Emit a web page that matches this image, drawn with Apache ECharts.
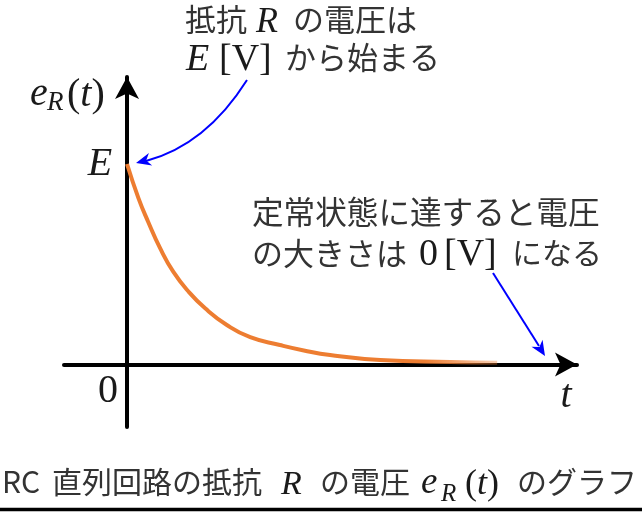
<!DOCTYPE html>
<html>
<head>
<meta charset="utf-8" />
<title>RC 直列回路の抵抗 R の電圧</title>
<script src="https://cdn.jsdelivr.net/npm/echarts@6/dist/echarts.min.js"></script>
<style>
html, body { margin: 0; padding: 0; background: #ffffff; }
#main { width: 642px; height: 512px; }
</style>
</head>
<body>
<div id="main"></div>
<script type="text/javascript">
// 図から読み取った値 (t: 時間, eR: E に対する比)
var tValues = [0, 0.2, 0.37, 0.58, 0.81, 1.08, 1.37, 1.75, 2.16, 2.68, 3.1, 3.56, 4.44, 5.67, 6.49];
var eValues = [1.0, 0.83, 0.712, 0.58, 0.463, 0.363, 0.28, 0.197, 0.136, 0.097, 0.07, 0.047, 0.022, 0.012, 0.008];
var xRange = [-1.105, 7.89];
var yRange = [-0.312, 1.434];

var jpFont = '"Noto Sans CJK JP", sans-serif';
var mathFont = '"Liberation Serif", serif';
var jpColor = '#333333';
var mathColor = '#1a1a1a';
var blue = '#0000ff';

// 文字 (x は左端, y は行の中央)
function txt(x, y, text, kind, size, align) {
	var style = {
		text : text,
		fill : kind == 'jp' ? jpColor : mathColor,
		fontFamily : kind == 'jp' ? jpFont : mathFont,
		fontStyle : kind == 'mi' ? 'italic' : 'normal',
		fontSize : size,
		align : align || 'left',
		verticalAlign : 'middle'
	};
	return { type : 'text', x : x, y : y, z : 10, style : style };
}

// (t) のように 直立の括弧 + 斜体の t
function paren(x, y, size) {
	return {
		type : 'text',
		x : x,
		y : y,
		z : 10,
		style : {
			text : '{r|(}{i|t}{r|)}',
			align : 'left',
			verticalAlign : 'middle',
			rich : {
				r : { fontFamily : mathFont, fontSize : size, fill : mathColor },
				i : { fontFamily : mathFont, fontStyle : 'italic', fontSize : size, fill : mathColor }
			}
		}
	};
}

// 矢じり (tip へ向かう)
function arrowHead(tip, from, len, wid) {
	var dx = tip[0] - from[0], dy = tip[1] - from[1];
	var d = Math.sqrt(dx * dx + dy * dy);
	var ux = dx / d, uy = dy / d;
	var px = -uy, py = ux;
	var bx = tip[0] - ux * len, by = tip[1] - uy * len;
	var nx = tip[0] - ux * len * 0.7, ny = tip[1] - uy * len * 0.7;
	return {
		type : 'polygon',
		z : 10,
		shape : {
			points : [ tip, [ bx + px * wid / 2, by + py * wid / 2 ], [ nx, ny ],
					[ bx - px * wid / 2, by - py * wid / 2 ] ]
		},
		style : { fill : blue }
	};
}

var axisCommon = {
	type : 'value',
	axisLine : {
		onZero : true,
		symbol : [ 'none', 'arrow' ],
		symbolSize : [ 18, 22 ],
		lineStyle : { color : '#000', width : 4 }
	},
	axisTick : { show : false },
	axisLabel : { show : false },
	splitLine : { show : false }
};

var chart = echarts.init(document.getElementById('main'));
chart.setOption({
	animation : false,
	grid : {
		left : 64,
		right : 65,
		top : 77,
		bottom : 85
	},
	xAxis : echarts.util.merge({ min : xRange[0], max : xRange[1] }, axisCommon),
	yAxis : echarts.util.merge({ min : yRange[0], max : yRange[1] }, axisCommon),
	series : [ {
		type : 'line',
		smooth : true,
		showSymbol : false,
		z : 3,
		lineStyle : {
			width : 4,
			color : new echarts.graphic.LinearGradient(0, 0, 1, 0, [
				{ offset : 0, color : '#ed7d31' },
				{ offset : 0.8, color : '#ed7d31' },
				{ offset : 1, color : 'rgba(237,125,49,0.35)' }
			])
		},
		data : tValues.map(function(t, i) {
			return [ t, eValues[i] ];
		})
	} ],
	graphic : [
		// 抵抗 R の電圧は / E [V] から始まる
		txt(185, 19, '抵抗', 'jp', 31),
		txt(256, 23, 'R', 'mi', 36),
		txt(293, 19, 'の電圧は', 'jp', 31),
		txt(186, 60, 'E', 'mi', 38),
		txt(219, 60, '[V]', 'mr', 38),
		txt(285, 57, 'から始まる', 'jp', 31),
		// 定常状態に達すると電圧 / の大きさは 0 [V] になる
		txt(252, 212, '定常状態に達すると電圧', 'jp', 31.6),
		txt(252, 253, 'の大きさは', 'jp', 31),
		txt(419, 255, '0', 'mr', 38),
		txt(444, 255, '[V]', 'mr', 38),
		txt(512, 253, 'になる', 'jp', 30),
		// 軸ラベル
		txt(30, 94, 'e', 'mi', 40),
		txt(47, 103, 'R', 'mi', 27),
		paren(67, 95, 40),
		txt(100, 164, 'E', 'mi', 40, 'center'),
		txt(108, 391, '0', 'mr', 40, 'center'),
		txt(566, 396, 't', 'mi', 40, 'center'),
		// キャプション
		txt(2, 482, 'RC', 'jp', 30),
		txt(52, 482, '直列回路の抵抗', 'jp', 30),
		txt(281, 485, 'R', 'mi', 34),
		txt(320, 482, 'の電圧', 'jp', 30),
		txt(421, 483, 'e', 'mi', 37),
		txt(441, 494, 'R', 'mi', 25),
		paren(465, 485, 36),
		txt(517, 482, 'のグラフ', 'jp', 30),
		// 矢印
		{
			type : 'bezierCurve',
			z : 10,
			shape : { x1 : 247, y1 : 80, cpx1 : 206, cpy1 : 145, x2 : 146, y2 : 161 },
			style : { stroke : blue, lineWidth : 2, fill : null }
		},
		arrowHead([ 136, 163 ], [ 206, 145 ], 15, 13),
		{
			type : 'line',
			z : 10,
			shape : { x1 : 493, y1 : 273, x2 : 539, y2 : 346 },
			style : { stroke : blue, lineWidth : 2 }
		},
		arrowHead([ 545, 356 ], [ 493, 273 ], 15, 13),
		{
			type : 'line',
			z : 10,
			shape : { x1 : 0, y1 : 509.5, x2 : 642, y2 : 509.5 },
			style : { stroke : '#000', lineWidth : 3.5 }
		}
	]
});
</script>
</body>
</html>
